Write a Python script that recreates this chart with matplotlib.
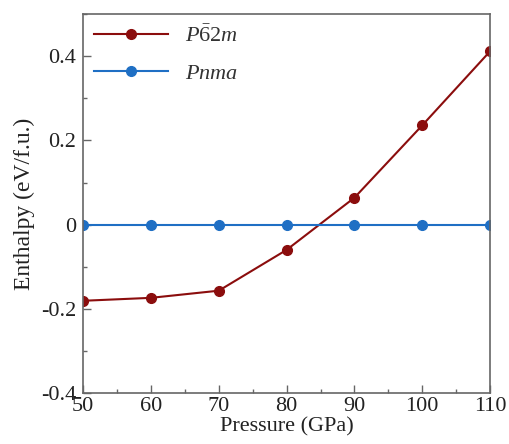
import matplotlib
matplotlib.use("Agg")
import matplotlib.pyplot as plt
from matplotlib.ticker import MultipleLocator

plt.rcParams['font.family'] = 'Liberation Serif'
plt.rcParams['mathtext.fontset'] = 'custom'
plt.rcParams['mathtext.rm'] = 'Liberation Serif'
plt.rcParams['mathtext.it'] = 'Liberation Serif:italic'

pressure = [50, 60, 70, 80, 90, 100, 110]
h_p62m = [-0.181, -0.174, -0.157, -0.060, 0.064, 0.236, 0.412]
h_pnma = [0, 0, 0, 0, 0, 0, 0]

red = '#8b0d0d'
blue = '#1f6fc4'
axis_col = '#666666'

fig = plt.figure(figsize=(5.1, 4.44), dpi=100)
ax = fig.add_axes([0.163, 0.115, 0.798, 0.853])

ax.plot(pressure, h_p62m, '-o', color=red, lw=1.5, ms=7, label=r'$P\bar{6}2m$')
ax.plot(pressure, h_pnma, '-o', color=blue, lw=1.5, ms=7, label=r'$Pnma$')

ax.set_xlim(50, 110)
ax.set_ylim(-0.4, 0.5)
ax.set_xticks([50, 60, 70, 80, 90, 100, 110])
ax.set_yticks([-0.4, -0.2, 0, 0.2, 0.4])
ax.set_yticklabels(['-0.4', '-0.2', '0', '0.2', '0.4'])
ax.xaxis.set_minor_locator(MultipleLocator(5))
ax.yaxis.set_minor_locator(MultipleLocator(0.1))
ax.tick_params(which='both', direction='in', colors=axis_col, labelcolor='#222222',
               labelsize=16, width=1)
ax.tick_params(which='major', length=6)
ax.tick_params(which='minor', length=3)
ax.tick_params(axis='x', pad=3)
ax.tick_params(axis='y', pad=5)
for s in ax.spines.values():
    s.set_color(axis_col)
    s.set_linewidth(1.2)

ax.set_xlabel('Pressure (GPa)', fontsize=16, color='#222222', labelpad=1)
ax.set_ylabel('Enthalpy (eV/f.u.)', fontsize=17, color='#222222', labelpad=4)

leg = ax.legend(loc='upper left', frameon=False, fontsize=16, handlelength=3.3,
                borderaxespad=0.1, labelspacing=0.75)
for t in leg.get_texts():
    t.set_color('#333333')

fig.savefig('out.png', dpi=100)
